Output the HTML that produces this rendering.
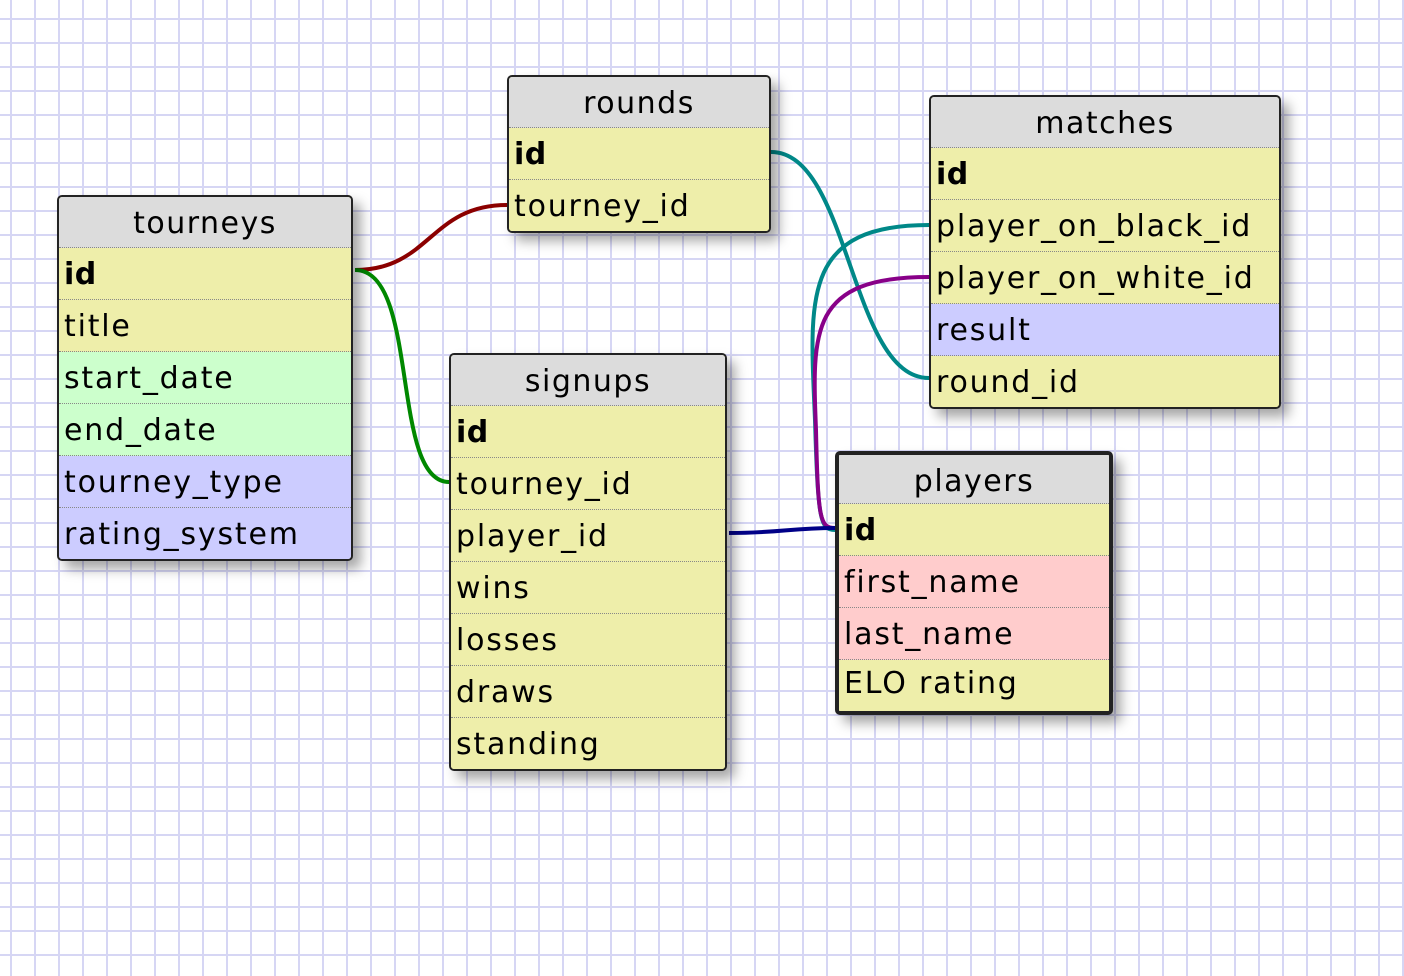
<!DOCTYPE html>
<html><head><style>
body{margin:0;width:1404px;height:976px;overflow:hidden;position:relative;background-color:#fff;
background-image:linear-gradient(to right,#d6d6f4 2px,transparent 2px),linear-gradient(to bottom,#d6d6f4 2px,transparent 2px);
background-size:24px 24px;background-position:10px 18px;font-family:"DejaVu Sans","Liberation Sans",sans-serif;}
.t{position:absolute;border:2px solid #222;border-radius:5px;overflow:hidden;box-shadow:8px 8px 12px rgba(0,0,0,0.35);background:#eeeeaa;}
.h{height:50px;background:#dcdcdc;text-align:center;font-size:30px;letter-spacing:1.5px;line-height:54px;color:#000;border-bottom:1px dotted #888;}
.r{height:51px;border-bottom:1px dotted #888;font-size:30px;letter-spacing:1.8px;line-height:54px;padding-left:5px;color:#000;white-space:nowrap;}
.r:last-child{border-bottom:none}
.b{font-weight:bold;letter-spacing:0.5px}
.y{background:#eeeeaa}.g{background:#ccffcc}.p{background:#ccccff}.k{background:#ffcccc}
svg{position:absolute;left:0;top:0}
</style></head><body>
<svg width="1404" height="976" style="z-index:0">
<g fill="none" stroke-width="4">
<path d="M355 270 C430 270,430 205,507 205" stroke="#8b0000"/>
<path d="M355 270 C420 270,390 482,449 482" stroke="#008800"/>
<path d="M771 152 C850 152,850 378,929 378" stroke="#008888"/>
<path d="M929 225 C800 225,810 300,815 420 C818 520,820 530,835 530" stroke="#008888"/>
<path d="M929 277 C810 277,812 330,816 430 C818 520,820 528,835 528" stroke="#880088"/>
<path d="M729 533 C780 533,790 528,835 528" stroke="#000088"/>
</g></svg>
<div class="t" style="left:57px;top:195px;width:292px">
<div class="h">tourneys</div>
<div class="r y b">id</div><div class="r y">title</div><div class="r g">start_date</div><div class="r g">end_date</div><div class="r p">tourney_type</div><div class="r p">rating_system</div>
</div>
<div class="t" style="left:507px;top:75px;width:260px">
<div class="h">rounds</div>
<div class="r y b">id</div><div class="r y">tourney_id</div>
</div>
<div class="t" style="left:929px;top:95px;width:348px">
<div class="h">matches</div>
<div class="r y b">id</div><div class="r y">player_on_black_id</div><div class="r y">player_on_white_id</div><div class="r p">result</div><div class="r y">round_id</div>
</div>
<div class="t" style="left:449px;top:353px;width:274px">
<div class="h">signups</div>
<div class="r y b">id</div><div class="r y">tourney_id</div><div class="r y">player_id</div><div class="r y">wins</div><div class="r y">losses</div><div class="r y">draws</div><div class="r y">standing</div>
</div>
<div class="t" style="left:835px;top:451px;width:270px;border-width:4px">
<div class="h" style="height:48px">players</div>
<div class="r y b">id</div><div class="r k">first_name</div><div class="r k">last_name</div><div class="r y" style="line-height:48px">ELO rating</div>
</div>
</body></html>
